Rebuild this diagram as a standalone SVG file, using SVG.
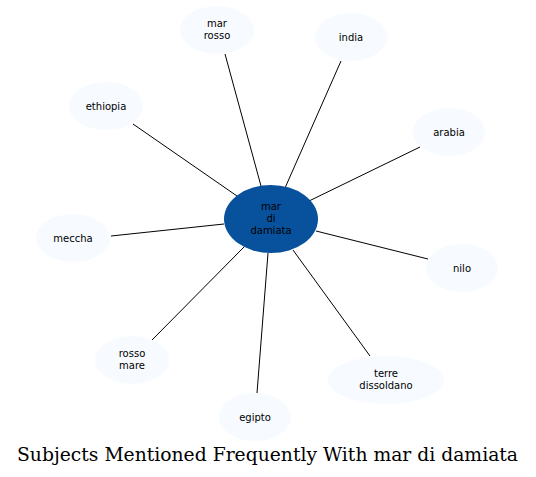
<svg xmlns="http://www.w3.org/2000/svg" width="536" height="477" viewBox="0 0 536 477">
<style>
.n ellipse{fill:#f7fbff;stroke:none}
.n text,.c text{font-family:"DejaVu Sans",sans-serif;font-size:10px;text-anchor:middle;fill:#000}
.e line{stroke:#000;stroke-width:1}
.t{font-family:"DejaVu Serif",serif;font-size:18px;fill:#000}
</style>
<rect width="536" height="477" fill="#fff"/>
<g class="e" id="edges">
<line x1="225" y1="54" x2="261" y2="186"/>
<line x1="341" y1="61" x2="285" y2="188"/>
<line x1="133" y1="124" x2="237" y2="196"/>
<line x1="420" y1="147" x2="309" y2="201"/>
<line x1="111" y1="236" x2="224" y2="224"/>
<line x1="428" y1="259" x2="316" y2="231"/>
<line x1="152" y1="340" x2="244" y2="247"/>
<line x1="370" y1="356" x2="293" y2="250"/>
<line x1="257" y1="393" x2="268" y2="253"/>
</g>
<g class="c" id="center">
<ellipse cx="271" cy="219" rx="47" ry="34" fill="#08519c"/>
<text x="271" y="210">mar</text>
<text x="271" y="222">di</text>
<text x="271" y="234">damiata</text>
</g>
<g class="n" id="mar-rosso"><ellipse cx="217" cy="30" rx="37" ry="24"/><text x="217" y="27">mar</text><text x="217" y="39">rosso</text></g>
<g class="n" id="india"><ellipse cx="351" cy="37" rx="36" ry="24"/><text x="351" y="41">india</text></g>
<g class="n" id="ethiopia"><ellipse cx="106" cy="106" rx="37" ry="24"/><text x="106" y="110">ethiopia</text></g>
<g class="n" id="arabia"><ellipse cx="449" cy="132" rx="36" ry="24"/><text x="449" y="136">arabia</text></g>
<g class="n" id="meccha"><ellipse cx="73" cy="238" rx="37" ry="24"/><text x="73" y="242">meccha</text></g>
<g class="n" id="nilo"><ellipse cx="462" cy="268" rx="36" ry="24"/><text x="462" y="272">nilo</text></g>
<g class="n" id="rosso-mare"><ellipse cx="132" cy="360" rx="37" ry="24"/><text x="132" y="357">rosso</text><text x="132" y="369">mare</text></g>
<g class="n" id="terre-dissoldano"><ellipse cx="386" cy="380" rx="58" ry="24"/><text x="386" y="377">terre</text><text x="386" y="389">dissoldano</text></g>
<g class="n" id="egipto"><ellipse cx="255" cy="417" rx="36" ry="24"/><text x="255" y="421">egipto</text></g>
<text class="t" x="17" y="461" textLength="501" lengthAdjust="spacingAndGlyphs">Subjects Mentioned Frequently With mar di damiata</text>
</svg>
